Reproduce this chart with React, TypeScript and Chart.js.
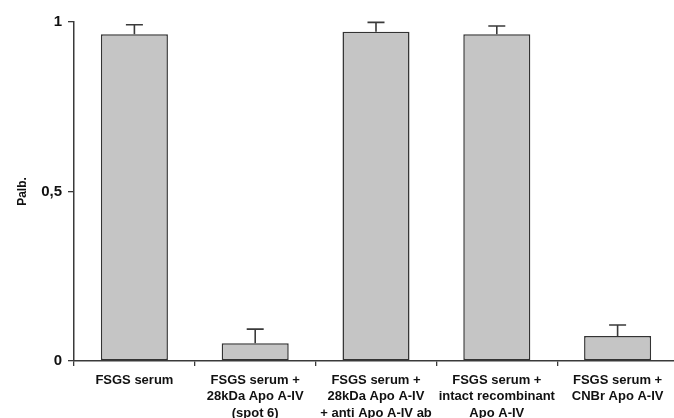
import React, { useEffect, useRef } from "react";
import { Chart, registerables } from "chart.js";

Chart.register(...registerables);

const categories: string[][] = [
  ["FSGS serum"],
  ["FSGS serum +", "28kDa Apo A-IV", "(spot 6)"],
  ["FSGS serum +", "28kDa Apo A-IV", "+ anti Apo A-IV ab"],
  ["FSGS serum +", "intact recombinant", "Apo A-IV"],
  ["FSGS serum +", "CNBr Apo A-IV"],
];
const palbValues: number[] = [0.964, 0.052, 0.971, 0.964, 0.074];
const palbErrors: number[] = [0.028, 0.042, 0.028, 0.024, 0.032];
const yTickValues: number[] = [0, 0.5, 1];
const yTickLabels: string[] = ["0", "0,5", "1"];
const yAxisTitle = "Palb.";

const AXIS = "#3a3a3a";
const FONT = "'Liberation Sans', Arial, sans-serif";

const errorBarPlugin = {
  id: "errorBars",
  afterDatasetsDraw(chart: any) {
    const ctx = chart.ctx;
    const meta = chart.getDatasetMeta(0);
    const y = chart.scales.y;
    ctx.save();
    ctx.strokeStyle = AXIS;
    ctx.lineWidth = 1.6;
    meta.data.forEach((bar: any, i: number) => {
      const v = palbValues[i];
      const e = palbErrors[i];
      const yb = y.getPixelForValue(v);
      const yt = y.getPixelForValue(v + e);
      ctx.beginPath();
      ctx.moveTo(bar.x, yb);
      ctx.lineTo(bar.x, yt);
      ctx.moveTo(bar.x - 8.5, yt);
      ctx.lineTo(bar.x + 8.5, yt);
      ctx.stroke();
    });
    ctx.restore();
  },
};

const yTitlePlugin = {
  id: "yTitle",
  afterDraw(chart: any) {
    const ctx = chart.ctx;
    const y = chart.scales.y;
    ctx.save();
    ctx.translate(23, y.getPixelForValue(0.5));
    ctx.rotate(-Math.PI / 2);
    ctx.font = `bold 12px ${FONT}`;
    ctx.fillStyle = "#111";
    ctx.textAlign = "center";
    ctx.textBaseline = "middle";
    ctx.fillText(yAxisTitle, 0, 0);
    ctx.restore();
  },
};

export default function App() {
  const ref = useRef<HTMLCanvasElement | null>(null);
  useEffect(() => {
    document.body.style.margin = "0";
    const chart = new Chart(ref.current as HTMLCanvasElement, {
      type: "bar",
      data: {
        labels: categories,
        datasets: [
          {
            data: palbValues,
            backgroundColor: "#c5c5c5",
            borderColor: "#333333",
            borderWidth: 1.5,
            borderSkipped: false,
            barPercentage: 0.555,
            categoryPercentage: 1,
          },
        ],
      },
      options: {
        animation: false,
        responsive: false,
        layout: { padding: { left: 0, right: 12, top: 22, bottom: 0 } },
        plugins: { legend: { display: false }, tooltip: { enabled: false } },
        scales: {
          x: {
            offset: true,
            grid: {
              display: true,
              drawOnChartArea: false,
              drawTicks: true,
              tickLength: 5,
              offset: true,
              color: AXIS,
              lineWidth: 1.3,
            },
            border: { display: true, color: AXIS, width: 1.5 },
            ticks: {
              maxRotation: 0,
              autoSkip: false,
              padding: 6,
              color: "#111",
              font: { family: FONT, size: 13, weight: "bold", lineHeight: "16.5px" },
            },
            afterFit(scale: any) {
              scale.height = 57;
            },
          },
          y: {
            min: 0,
            max: 1,
            afterBuildTicks(scale: any) {
              scale.ticks = yTickValues.map((v) => ({ value: v }));
            },
            grid: {
              display: true,
              drawOnChartArea: false,
              drawTicks: true,
              tickLength: 6,
              color: AXIS,
              lineWidth: 1.3,
            },
            border: { display: true, color: AXIS, width: 1.5 },
            ticks: {
              padding: 6,
              color: "#111",
              font: { family: FONT, size: 15, weight: "bold" },
              callback: (_v: any, i: number) => yTickLabels[i],
            },
            afterFit(scale: any) {
              scale.width = 74;
            },
          },
        },
      },
      plugins: [errorBarPlugin, yTitlePlugin],
    });
    return () => chart.destroy();
  }, []);
  return (
    <div style={{ width: 674, height: 418, overflow: "hidden", background: "#fff" }}>
      <canvas ref={ref} width={690} height={418} style={{ display: "block" }} />
    </div>
  );
}
